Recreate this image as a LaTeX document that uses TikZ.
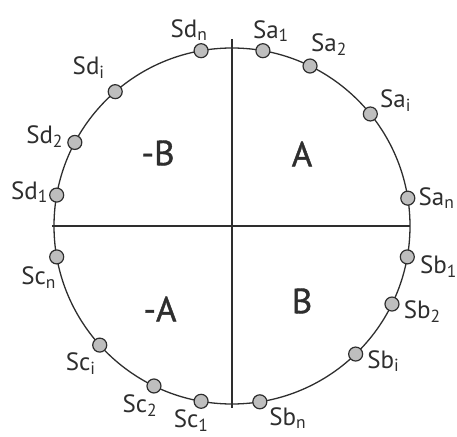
\documentclass[tikz,border=0pt]{standalone}
\usepackage{fontspec}
\setmainfont{PT Sans}
\newfontfamily\quadfont[FakeBold=1.2]{PT Sans}
\usetikzlibrary{positioning}
\definecolor{RingInk}{HTML}{2E2E2E}
\definecolor{DotFill}{HTML}{BEBEBE}
\newcommand{\sub}[1]{\textsubscript{#1}}

\begin{document}
\begin{tikzpicture}[
      x=1pt,y=1pt,
      ring/.style={draw=RingInk,line width=1.3pt},
      dot/.style={circle,draw=RingInk,fill=DotFill,line width=1.2pt,
        minimum size=14pt,inner sep=0pt},
      lbl/.style={font=\fontsize{25}{28}\selectfont,text=RingInk,inner sep=1pt},
      quad/.style={font=\quadfont\fontsize{35}{38}\selectfont,text=RingInk}
    ]
      \useasboundingbox (-232,-210) rectangle (225,226);
      \coordinate (o) at (0,0);
      \coordinate (top) at (0,187);
      \coordinate (bottom) at (0,-182);
      \coordinate (west) at (-180,0);
      \coordinate (east) at (178,0);
      \draw[ring] (o) circle (178);
      \draw[ring] (top)--(bottom);
      \draw[ring] (west)--(east);
      % quadrant A
      \node[dot] (sa1) at (80:178) {};
      \node[dot] (sa2) at (64:178) {};
      \node[dot] (sai) at (39:178) {};
      \node[dot] (san) at (9:178) {};
      % quadrant B
      \node[dot] (sb1) at (-10:178) {};
      \node[dot] (sb2) at (-26:178) {};
      \node[dot] (sbi) at (-46:178) {};
      \node[dot] (sbn) at (-81:178) {};
      % quadrant -A
      \node[dot] (sc1) at (260:178) {};
      \node[dot] (sc2) at (244:178) {};
      \node[dot] (sci) at (222:178) {};
      \node[dot] (scn) at (190:178) {};
      % quadrant -B
      \node[dot] (sd1) at (170:178) {};
      \node[dot] (sd2) at (152:178) {};
      \node[dot] (sdi) at (131:178) {};
      \node[dot] (sdn) at (100:178) {};
      % labels
      \node[lbl,above=0pt of sa1,xshift=8pt] (lsa1) {Sa\sub{1}};
      \node[lbl,above=2pt of sa2,xshift=19pt] (lsa2) {Sa\sub{2}};
      \node[lbl,right=1pt of sai,yshift=13pt] (lsai) {Sa\sub{i}};
      \node[lbl,right=2pt of san] (lsan) {Sa\sub{n}};
      \node[lbl,right=4pt of sb1,yshift=-10pt] (lsb1) {Sb\sub{1}};
      \node[lbl,right=3pt of sb2,yshift=-8pt] (lsb2) {Sb\sub{2}};
      \node[lbl,right=3pt of sbi,yshift=-7pt] (lsbi) {Sb\sub{i}};
      \node[lbl,below right=-1pt and 3pt of sbn] (lsbn) {Sb\sub{n}};
      \node[lbl,below=0pt of sc1,xshift=-10pt] (lsc1) {Sc\sub{1}};
      \node[lbl,below=0pt of sc2,xshift=-14pt] (lsc2) {Sc\sub{2}};
      \node[lbl,below=-1pt of sci,xshift=-19pt] (lsci) {Sc\sub{i}};
      \node[lbl,below=1pt of scn,xshift=-18pt] (lscn) {Sc\sub{n}};
      \node[lbl,left=0pt of sd1,yshift=3pt] (lsd1) {Sd\sub{1}};
      \node[lbl,left=3pt of sd2,yshift=6pt] (lsd2) {Sd\sub{2}};
      \node[lbl,above left=7pt and 4pt of sdi] (lsdi) {Sd\sub{i}};
      \node[lbl,above=1pt of sdn,xshift=-12pt] (lsdn) {Sd\sub{n}};
      % quadrant names
      \node[quad] (qa) at (70,72) {A};
      \node[quad] (qb) at (70,-75) {B};
      \node[quad] (qma) at (-72,-83) {-A};
      \node[quad] (qmb) at (-74,73) {-B};
    \end{tikzpicture}
\end{document}
